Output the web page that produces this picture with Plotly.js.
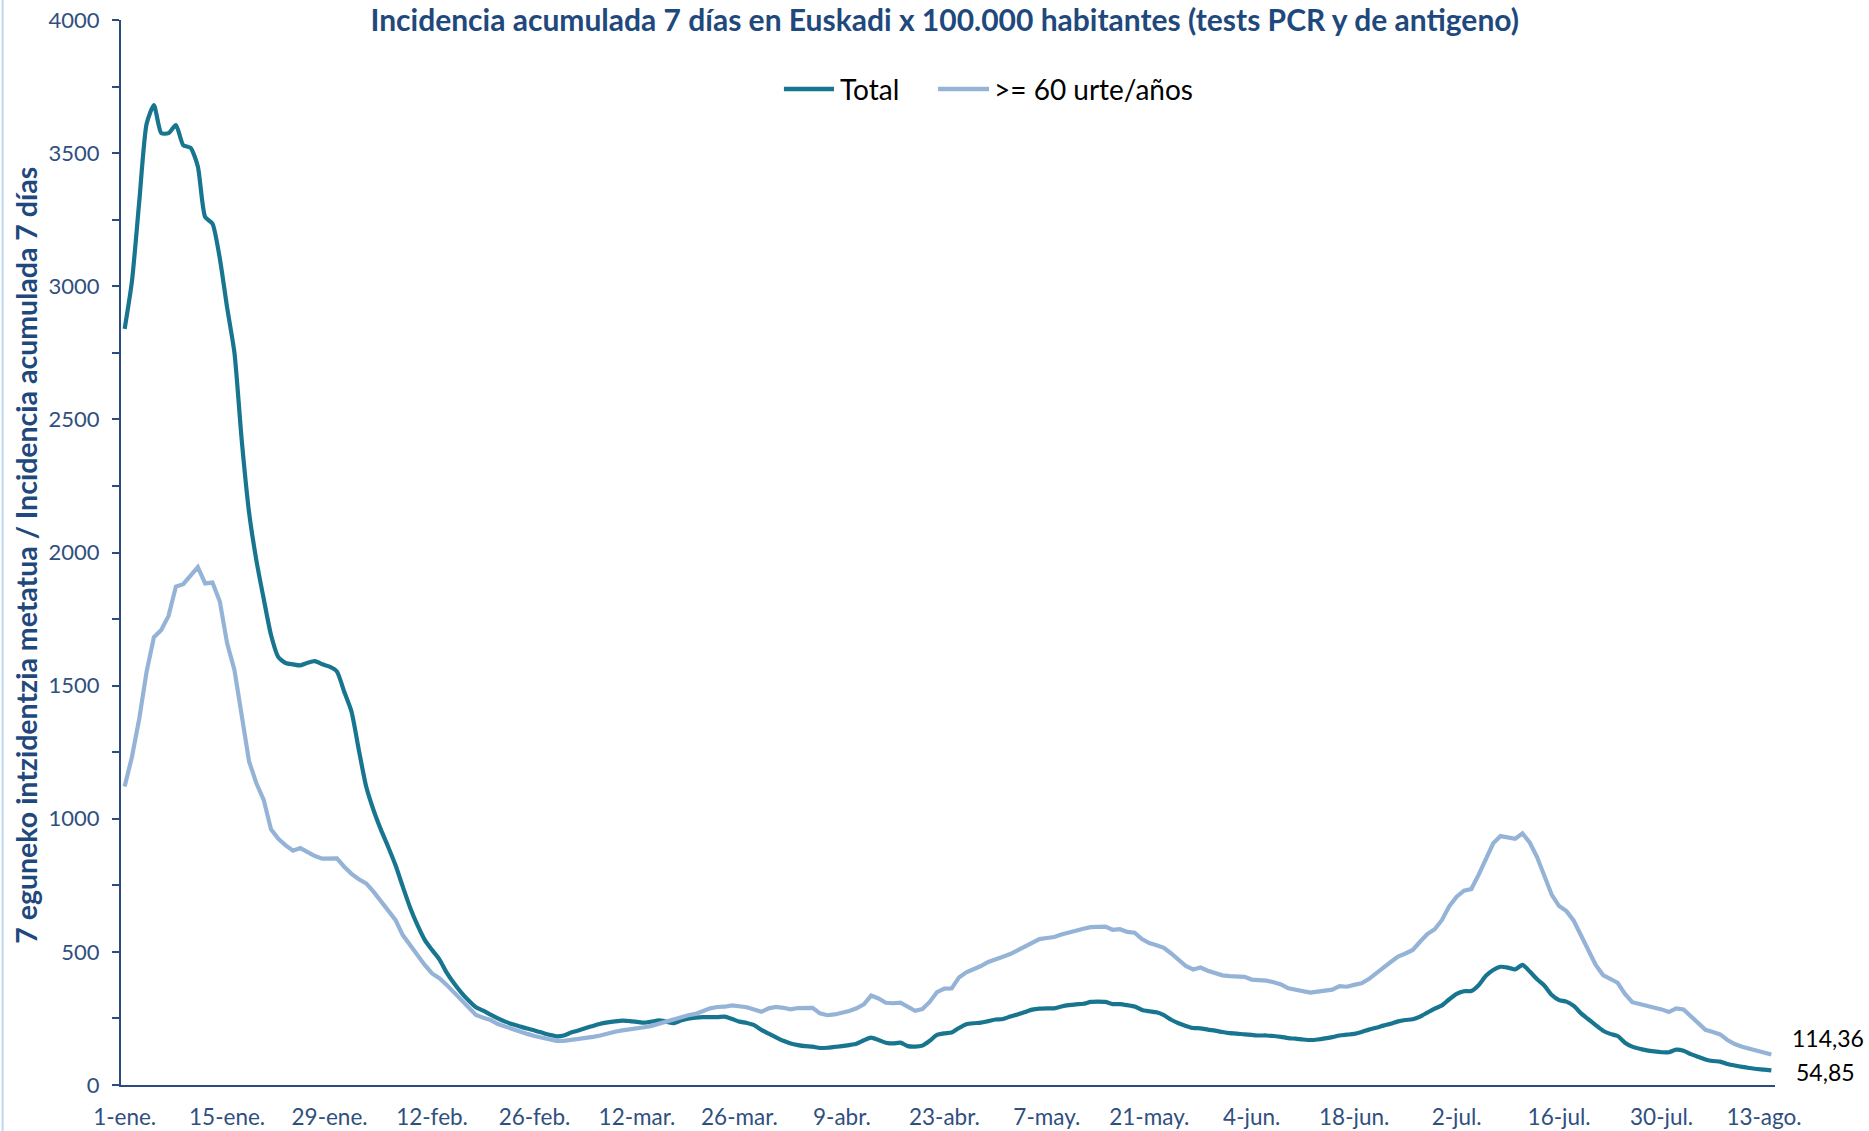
<!DOCTYPE html>
<html>
<head>
<meta charset="utf-8">
<script src="https://cdn.plot.ly/plotly-3.0.1.min.js"></script>
<style>
  html, body { margin: 0; padding: 0; background: #ffffff; }
  #chart { width: 1869px; height: 1131px; }
</style>
</head>
<body>
<div id="chart"></div>
<script>
// ---- Data (daily, 1-ene-2022 .. 14-ago-2022) ----
const startDate = '2022-01-01';

const totalValues = [
  2840,3020,3320,3610,3680,3575,3575,3605,3530,3520,
  3450,3260,3235,3105,2920,2750,2420,2150,1970,1826,
  1690,1607,1585,1580,1576,1586,1592,1580,1571,1553,
  1477,1402,1258,1121,1033,960,895,826,745,667,
  601,545,507,472,422,382,347,317,292,279,
  264,250,238,228,220,212,205,197,189,183,
  186,197,205,214,222,230,235,239,242,240,
  237,234,238,243,238,232,242,249,253,255,
  255,255,257,248,238,233,225,207,193,179,
  166,156,150,146,144,139,140,143,146,150,
  155,168,178,169,159,156,159,146,144,148,
  166,188,194,197,214,228,232,234,240,246,
  248,257,265,274,283,287,288,288,295,300,
  303,305,312,313,312,304,304,300,295,282,
  277,273,262,245,232,222,214,213,208,204,
  199,195,193,190,188,186,186,184,181,176,
  174,171,169,171,175,180,186,189,192,199,
  208,215,223,230,239,244,247,257,272,287,
  299,322,342,352,353,375,410,432,444,441,
  434,451,426,397,373,338,319,313,297,269,
  247,225,204,192,184,159,144,136,130,126,
  123,123,133,129,116,106,96,90,88,79,
  73,68,64,60,58,54.85
];

const over60Values = [
  1121,1233,1377,1553,1682,1709,1762,1872,1881,1913,
  1945,1884,1887,1816,1659,1559,1384,1215,1133,1071,
  960,925,900,880,890,875,860,850,851,851,
  820,793,773,757,726,689,651,620,563,526,
  485,451,419,401,376,347,319,288,263,253,
  244,229,219,212,200,192,184,178,171,166,
  166,169,173,178,181,186,195,200,205,208,
  212,217,222,230,240,248,253,262,267,278,
  288,293,294,299,297,292,284,275,288,293,
  290,284,289,288,290,269,262,265,270,278,
  288,303,336,325,309,307,309,294,279,285,
  312,349,362,363,404,423,433,447,462,474,
  482,492,506,520,536,548,552,556,565,573,
  583,587,593,595,595,583,585,575,572,548,
  533,525,515,494,472,447,434,441,429,421,
  412,409,407,406,396,394,392,386,378,363,
  357,352,347,351,354,358,371,369,376,382,
  398,422,441,462,482,494,507,538,567,585,
  620,672,707,730,736,789,845,908,935,930,
  925,945,910,855,789,714,672,653,617,563,
  507,451,413,398,384,342,311,304,298,292,
  284,274,288,284,259,234,207,199,190,169,
  154,144,136,129,121,114.36
];

const seriesNames = ['Total', '>= 60 urte/años'];
const lastLabels = ['54,85', '114,36'];

const tickDates = ['2022-01-01','2022-01-15','2022-01-29','2022-02-12','2022-02-26',
  '2022-03-12','2022-03-26','2022-04-09','2022-04-23','2022-05-07','2022-05-21',
  '2022-06-04','2022-06-18','2022-07-02','2022-07-16','2022-07-30','2022-08-13'];
const tickLabels = ['1-ene.','15-ene.','29-ene.','12-feb.','26-feb.','12-mar.','26-mar.',
  '9-abr.','23-abr.','7-may.','21-may.','4-jun.','18-jun.','2-jul.','16-jul.','30-jul.','13-ago.'];

const yTickVals = [0,500,1000,1500,2000,2500,3000,3500,4000];

// ---- Build dates (category positions) ----
function dayString(i) {
  const d = new Date(Date.UTC(2022, 0, 1 + i));
  return d.toISOString().slice(0, 10);
}
const dates = totalValues.map((_, i) => dayString(i));

const FONT = 'Lato, "Open Sans", sans-serif';
const NAVY = '#1F497D';
const TOTAL_COLOR = '#17758F';
const OVER60_COLOR = '#95B3D7';
const AXIS_COLOR = '#2B4C7E';
const TICK_COLOR = '#2F4F80';

const traces = [
  {
    x: dates, y: totalValues, name: seriesNames[0], type: 'scatter', mode: 'lines',
    line: { color: TOTAL_COLOR, width: 4.2, shape: 'spline', smoothing: 0.6 }
  },
  {
    x: dates, y: over60Values, name: seriesNames[1], type: 'scatter', mode: 'lines',
    line: { color: OVER60_COLOR, width: 4.2 }
  }
];

const lastDate = dates[dates.length - 1];

// legend drawn by hand (line samples + labels), positions in paper units
const legendY = 0.9352;
const legendItems = [
  { name: seriesNames[0], color: TOTAL_COLOR, x0: 0.4008, x1: 0.4311, tx: 0.4335 },
  { name: seriesNames[1], color: OVER60_COLOR, x0: 0.4940, x1: 0.5248, tx: 0.5266 }
];

const shapes = [
  {
    type: 'line', xref: 'paper', yref: 'paper',
    x0: -0.0716, x1: -0.0716, y0: -0.0432, y1: 1.0188,
    line: { color: '#BDD7EE', width: 2 }
  }
];
legendItems.forEach(it => shapes.push({
  type: 'line', xref: 'paper', yref: 'paper',
  x0: it.x0, x1: it.x1, y0: legendY, y1: legendY,
  line: { color: it.color, width: 4.5 }
}));

const annotations = [
  {
    text: '<b>7 eguneko intzidentzia metatua / Incidencia acumulada 7 días</b>',
    xref: 'paper', yref: 'paper', x: -0.0574, y: 0.497, xanchor: 'center', yanchor: 'middle',
    textangle: -90, showarrow: false,
    font: { family: FONT, size: 28.5, color: NAVY }
  },
  {
    text: lastLabels[1], x: lastDate, y: over60Values[over60Values.length - 1],
    xanchor: 'left', yanchor: 'middle', xshift: 19, yshift: 17, showarrow: false,
    font: { family: FONT, size: 23, color: '#000000' }
  },
  {
    text: lastLabels[0], x: lastDate, y: totalValues[totalValues.length - 1],
    xanchor: 'left', yanchor: 'middle', xshift: 23, yshift: -2, showarrow: false,
    font: { family: FONT, size: 23, color: '#000000' }
  }
];
legendItems.forEach(it => annotations.push({
  text: it.name, xref: 'paper', yref: 'paper', x: it.tx, y: legendY,
  xanchor: 'left', yanchor: 'middle', showarrow: false,
  font: { family: FONT, size: 28, color: '#000000' }
}));

const layout = {
  width: 1869, height: 1131,
  margin: { l: 121, r: 94, t: 20, b: 46 },
  paper_bgcolor: '#ffffff', plot_bgcolor: '#ffffff',
  font: { family: FONT, color: NAVY },
  title: {
    text: '<b>Incidencia acumulada 7 días en Euskadi x 100.000 habitantes (tests PCR y de antigeno)</b>',
    font: { family: FONT, size: 30, color: NAVY },
    x: 0.498, xref: 'paper', xanchor: 'center',
    y: 0.9815, yref: 'container', yanchor: 'middle'
  },
  showlegend: false,
  xaxis: {
    type: 'date',
    range: ['2021-12-31 12:00', '2022-08-14 12:00'],
    tickmode: 'array', tickvals: tickDates, ticktext: tickLabels,
    ticks: '', showgrid: false, zeroline: false,
    showline: true, linecolor: AXIS_COLOR, linewidth: 2,
    tickfont: { family: FONT, size: 22.5, color: TICK_COLOR },
    ticklabelstandoff: 11
  },
  yaxis: {
    range: [0, 4000],
    tickmode: 'array', tickvals: yTickVals,
    ticks: 'outside', ticklen: 7, tickwidth: 2, tickcolor: AXIS_COLOR,
    minor: { tickmode: 'linear', tick0: 0, dtick: 250, ticks: 'outside', ticklen: 7, tickwidth: 2, tickcolor: AXIS_COLOR, showgrid: false },
    showgrid: false, zeroline: false,
    showline: true, linecolor: AXIS_COLOR, linewidth: 2,
    tickfont: { family: FONT, size: 22, color: TICK_COLOR },
    ticklabelstandoff: 8
  },
  annotations: annotations,
  shapes: shapes
};

Plotly.newPlot('chart', traces, layout, { displayModeBar: false, staticPlot: true });
</script>
</body>
</html>
